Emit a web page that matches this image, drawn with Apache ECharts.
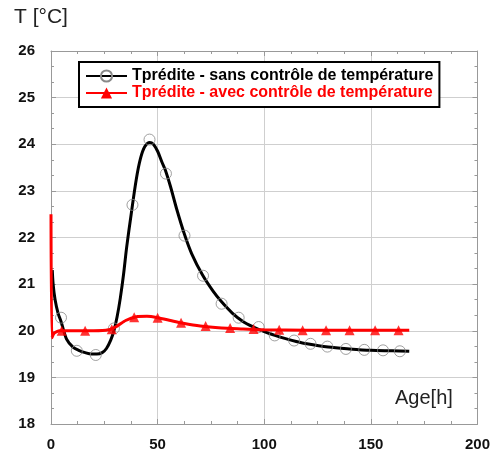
<!DOCTYPE html>
<html>
<head>
<meta charset="utf-8">
<script src="https://cdn.jsdelivr.net/npm/echarts@6/dist/echarts.min.js"></script>
<style>html,body{margin:0;padding:0;background:#fff}#c{width:493px;height:454px}</style>
</head>
<body>
<div id="c"></div>
<script>
// Series names
const nameSans = 'Tprédite - sans contrôle de température';
const nameAvec = 'Tprédite - avec contrôle de température';

// Black curve (without control)
const blackCurveX = [0.6, 1, 1.9, 3.3, 4.7, 7.3, 10.3, 13, 16, 19, 21.5, 24, 26, 28, 29.5, 31, 32.5, 34, 35.5, 37.6, 40, 42, 44, 46.3, 48, 50, 52, 53.6, 56, 59, 62.5, 66, 71, 76, 80, 85, 90, 95, 100, 105, 110, 115, 120, 130, 140, 150, 160, 168];
const blackCurveY = [21.3, 21.0, 20.67, 20.38, 20.2, 19.82, 19.65, 19.58, 19.53, 19.5, 19.5, 19.53, 19.62, 19.8, 20.0, 20.3, 20.7, 21.2, 21.8, 22.5, 23.25, 23.7, 23.95, 24.04, 24.0, 23.85, 23.62, 23.45, 23.1, 22.6, 22.08, 21.65, 21.2, 20.85, 20.62, 20.38, 20.2, 20.08, 19.98, 19.9, 19.83, 19.77, 19.72, 19.65, 19.61, 19.58, 19.57, 19.56];
// Black circle markers
const blackMarkX = [4.7, 12.1, 21, 29.5, 38.2, 46.2, 53.9, 62.6, 71.3, 80, 88, 97.4, 104.9, 114, 121.7, 129.6, 138.3, 146.9, 155.7, 163.6];
const blackMarkY = [20.28, 19.57, 19.48, 20.05, 22.7, 24.1, 23.37, 22.04, 21.18, 20.58, 20.28, 20.08, 19.9, 19.79, 19.72, 19.66, 19.61, 19.59, 19.58, 19.56];

// Red curve (with control)
const redCurveX = [0, 0.4, 1.5, 4, 10, 20, 27, 31, 35, 40, 45, 50, 56, 62, 70, 80, 90, 100, 120, 140, 168];
const redCurveY = [22.5, 19.85, 19.95, 20.0, 20.0, 20.0, 20.02, 20.1, 20.22, 20.3, 20.31, 20.28, 20.22, 20.16, 20.1, 20.06, 20.04, 20.02, 20.01, 20.01, 20.01];
// Red triangle markers
const redMarkX = [5, 16, 28.5, 39, 50, 61, 72.5, 84, 95, 107, 118, 129, 140, 152, 163];
const redMarkY = [20.0, 20.0, 20.03, 20.29, 20.28, 20.17, 20.1, 20.06, 20.04, 20.02, 20.01, 20.01, 20.01, 20.01, 20.01];

// Axis ticks
const xTicks = [0, 50, 100, 150, 200];
const yTicks = [18, 19, 20, 21, 22, 23, 24, 25, 26];

const zip = (a, b) => a.map((v, i) => [v, b[i]]);

const chart = echarts.init(document.getElementById('c'), null, {renderer: 'canvas'});
const frame = '#999';
const gridC = '#cfcfcf';
const font = 'Liberation Sans, Arial, sans-serif';

const axisCommon = {
  axisLine: {show: true, onZero: false, lineStyle: {color: frame, width: 1}},
  axisTick: {show: true, inside: true, length: 5, lineStyle: {color: frame}},
};

chart.setOption({
  animation: false,
  backgroundColor: '#fff',
  grid: {left: 51, right: 13, top: 51, bottom: 30},
  legend: {
    left: 79, top: 62,
    orient: 'vertical',
    data: [
      {name: nameSans, textStyle: {color: '#000'}},
      {name: nameAvec, textStyle: {color: '#f00'}}
    ],
    itemWidth: 41, itemHeight: 14, itemGap: 1,
    padding: [6, 6, 6, 6],
    borderColor: '#000', borderWidth: 2, backgroundColor: '#fff',
    textStyle: {fontFamily: font, fontWeight: 'bold', fontSize: 16},
    selectedMode: false
  },
  xAxis: [
    Object.assign({
      type: 'value', min: xTicks[0], max: xTicks[xTicks.length - 1], interval: 50, position: 'bottom',
      axisLabel: {fontFamily: font, fontWeight: 'bold', fontSize: 15, color: '#111', margin: 13},
      splitLine: {show: true, lineStyle: {color: gridC}},
    }, axisCommon, {minorTick: {show: true, splitNumber: 4, length: 3, lineStyle: {color: frame}}}),
    Object.assign({
      type: 'value', min: xTicks[0], max: xTicks[xTicks.length - 1], interval: 50, position: 'top',
      axisLabel: {show: false}, splitLine: {show: false}
    }, axisCommon, {minorTick: {show: true, splitNumber: 4, length: 3, lineStyle: {color: frame}}})
  ],
  yAxis: [
    Object.assign({
      type: 'value', min: yTicks[0], max: yTicks[yTicks.length - 1], interval: 1, position: 'left',
      axisLabel: {fontFamily: font, fontWeight: 'bold', fontSize: 15, color: '#111', margin: 16},
      splitLine: {show: true, lineStyle: {color: gridC}},
    }, axisCommon, {minorTick: {show: true, splitNumber: 3, length: 3, lineStyle: {color: frame}}}),
    Object.assign({
      type: 'value', min: yTicks[0], max: yTicks[yTicks.length - 1], interval: 1, position: 'right',
      axisLabel: {show: false}, splitLine: {show: false}
    }, axisCommon, {minorTick: {show: true, splitNumber: 3, length: 3, lineStyle: {color: frame}}})
  ],
  graphic: [
    {type: 'text', left: 14, top: 7, style: {text: 'T [°C]', font: '21px ' + font, fill: '#222'}},
    {type: 'text', left: 395, top: 388, style: {text: 'Age[h]', font: '20px ' + font, fill: '#222'}}
  ],
  series: [
    {
      name: nameSans, type: 'line', xAxisIndex: 0, yAxisIndex: 0,
      data: zip(blackCurveX, blackCurveY), smooth: 0.3,
      symbol: 'circle', symbolSize: 11, showSymbol: false,
      itemStyle: {color: 'rgba(255,255,255,0)', borderColor: '#888', borderWidth: 1},
      lineStyle: {color: '#000', width: 3}, z: 3
    },
    {
      name: 'sansMarks', type: 'scatter', xAxisIndex: 0, yAxisIndex: 0,
      data: zip(blackMarkX, blackMarkY), symbol: 'circle', symbolSize: 11,
      itemStyle: {color: 'rgba(255,255,255,0)', borderColor: '#888', borderWidth: 1}, z: 4
    },
    {
      name: nameAvec, type: 'line', xAxisIndex: 0, yAxisIndex: 0,
      data: zip(redCurveX, redCurveY), smooth: 0.2,
      symbol: 'triangle', symbolSize: 10, showSymbol: false,
      itemStyle: {color: '#f00'},
      lineStyle: {color: '#f00', width: 3}, z: 5
    },
    {
      name: 'avecMarks', type: 'scatter', xAxisIndex: 0, yAxisIndex: 0,
      data: zip(redMarkX, redMarkY), symbol: 'triangle', symbolSize: 10,
      itemStyle: {color: '#f00'}, z: 6
    }
  ]
});
</script>
</body>
</html>
